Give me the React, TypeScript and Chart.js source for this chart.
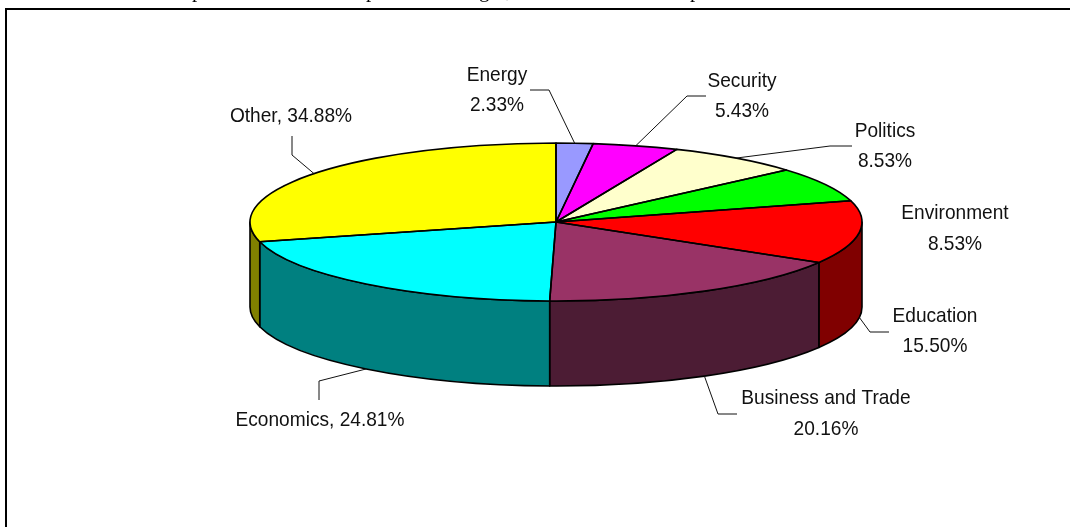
import React, { useEffect, useRef } from "react";
import { Chart, registerables } from "chart.js";

Chart.register(...registerables);

const categories = ["Energy", "Security", "Politics", "Environment", "Education", "Business and Trade", "Economics", "Other"];
const values = [2.33, 5.43, 8.53, 8.53, 15.5, 20.16, 24.81, 34.88];
const topColors = ["#9999FF", "#FF00FF", "#FFFFCC", "#00FF00", "#FF0000", "#993366", "#00FFFF", "#FFFF00"];
const wallColors = ["#4C4C80", "#800080", "#808066", "#008000", "#800000", "#4C1C34", "#008080", "#808000"];

// Only the bottoms of these glyphs of the line above the frame are visible in the picture
const clippedHeadingGlyphs = ["p", "p", "g", ",", "p"];
const clippedHeadingX = [192, 366, 479, 506, 690];

const FONT = '21px "Liberation Sans", Arial, sans-serif';
const TEXT_SCALE_X = 0.91;
const CX = 556, CY = 222, RX = 306, RY = 79, DEPTH = 85;

const labelLayout: Record<string, { x: number; y: number[]; oneLine?: boolean; leader?: number[][]; onWall?: boolean }> = {
  Energy: { x: 497, y: [75, 105], leader: [[549, 90], [530, 90]] },
  Security: { x: 742, y: [81, 111], leader: [[687, 96], [706, 96]] },
  Politics: { x: 885, y: [131, 161], leader: [[830, 146], [852, 146]] },
  Environment: { x: 955, y: [213, 244] },
  Education: { x: 935, y: [316, 346], leader: [[870, 332], [889, 332]], onWall: true },
  "Business and Trade": { x: 826, y: [398, 429], leader: [[718, 414], [737, 414]], onWall: true },
  Economics: { x: 320, y: [420], oneLine: true, leader: [[319, 381], [319, 400]], onWall: true },
  Other: { x: 291, y: [116], oneLine: true, leader: [[292, 155], [292, 136]] },
};

function drawText(ctx: CanvasRenderingContext2D, s: string, x: number, y: number) {
  ctx.save();
  ctx.translate(x, y);
  ctx.scale(TEXT_SCALE_X, 1);
  ctx.fillText(s, 0, 0);
  ctx.restore();
}

const pie3d = {
  id: "pie3d",
  beforeDraw(chart: any) {
    const { ctx } = chart;
    ctx.save();
    ctx.fillStyle = "#000";
    ctx.fillRect(5, 8, 1065, 2);
    ctx.fillRect(5, 8, 2, 519);
    ctx.font = '21px "Liberation Serif", "Times New Roman", serif';
    ctx.textBaseline = "alphabetic";
    clippedHeadingGlyphs.forEach((g, i) => ctx.fillText(g, clippedHeadingX[i], -3.5));
    ctx.restore();
  },
  beforeDatasetsDraw(chart: any) {
    const { ctx } = chart;
    const arcs = chart.getDatasetMeta(0).data;
    ctx.save();
    ctx.lineWidth = 1.6;
    ctx.strokeStyle = "#000";
    ctx.lineJoin = "round";
    arcs.forEach((arc: any, i: number) => {
      const a = Math.max(arc.startAngle, 0);
      const b = Math.min(arc.endAngle, Math.PI);
      if (b <= a) return;
      ctx.beginPath();
      ctx.ellipse(CX, CY, RX, RY, 0, a, b);
      ctx.ellipse(CX, CY + DEPTH, RX, RY, 0, b, a, true);
      ctx.closePath();
      ctx.fillStyle = wallColors[i];
      ctx.fill();
      ctx.stroke();
    });
    ctx.restore();
    const { x, y, outerRadius } = arcs[0];
    ctx.save();
    ctx.translate(CX, CY);
    ctx.scale(RX / outerRadius, RY / outerRadius);
    ctx.translate(-x, -y);
  },
  afterDatasetsDraw(chart: any) {
    const { ctx } = chart;
    ctx.restore();
    const arcs = chart.getDatasetMeta(0).data;
    ctx.save();
    ctx.lineWidth = 1.6;
    ctx.strokeStyle = "#000";
    ctx.lineJoin = "round";
    arcs.forEach((arc: any) => {
      ctx.beginPath();
      ctx.moveTo(CX, CY);
      ctx.ellipse(CX, CY, RX, RY, 0, arc.startAngle, arc.endAngle);
      ctx.closePath();
      ctx.stroke();
    });
    ctx.font = FONT;
    ctx.fillStyle = "#111";
    ctx.strokeStyle = "#111";
    ctx.textAlign = "center";
    ctx.textBaseline = "middle";
    ctx.lineWidth = 1;
    categories.forEach((name, i) => {
      const l = labelLayout[name];
      const pct = values[i].toFixed(2) + "%";
      if (l.oneLine) {
        drawText(ctx, `${name}, ${pct}`, l.x, l.y[0]);
      } else {
        drawText(ctx, name, l.x, l.y[0]);
        drawText(ctx, pct, l.x, l.y[1]);
      }
      if (l.leader) {
        const mid = (arcs[i].startAngle + arcs[i].endAngle) / 2;
        const sx = CX + RX * Math.cos(mid);
        const sy = CY + RY * Math.sin(mid) + (l.onWall ? DEPTH : 0);
        ctx.beginPath();
        ctx.moveTo(sx, sy);
        l.leader.forEach((p) => ctx.lineTo(p[0], p[1]));
        ctx.stroke();
      }
    });
    ctx.restore();
  },
};

export default function App() {
  const ref = useRef<HTMLCanvasElement>(null);
  useEffect(() => {
    const chart = new Chart(ref.current!, {
      type: "pie",
      data: {
        labels: categories,
        datasets: [{ data: values, backgroundColor: topColors, borderWidth: 0 }],
      },
      options: {
        animation: false,
        responsive: false,
        devicePixelRatio: 1,
        plugins: { legend: { display: false }, title: { display: false }, tooltip: { enabled: false } },
      },
      plugins: [pie3d],
    } as any);
    return () => chart.destroy();
  }, []);
  return (
    <div style={{ position: "fixed", left: 0, top: 0, width: 1070, height: 527, background: "#fff" }}>
      <canvas ref={ref} width={1070} height={527} style={{ display: "block" }} />
    </div>
  );
}
